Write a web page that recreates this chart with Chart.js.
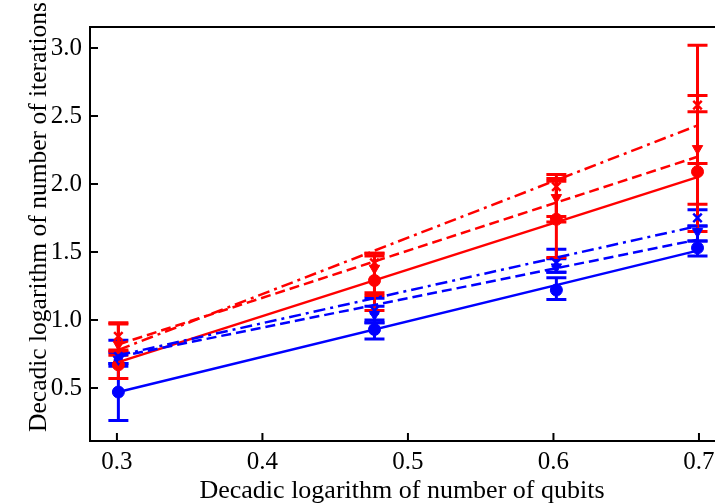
<!DOCTYPE html>
<html>
<head>
<meta charset="utf-8">
<script src="https://cdn.jsdelivr.net/npm/chart.js@4/dist/chart.umd.min.js"></script>
<style>
  html, body { margin: 0; padding: 0; background: #fff; overflow: hidden; }
</style>
</head>
<body>
<canvas id="plot" width="800" height="504"></canvas>
<script>
// axes
const xTicks = [0.3, 0.4, 0.5, 0.6, 0.7];
const yTicks = [0.5, 1.0, 1.5, 2.0, 2.5, 3.0];
const xTitle = 'Decadic logarithm of number of qubits';
const yTitle = 'Decadic logarithm of number of iterations';
const xPts = [0.301, 0.477, 0.602, 0.699];   // log10 of 2,3,4,5 qubits
const fitX = [0.301, 0.699];

// red measurements (value, lower, upper)
const redCircle   = [0.67, 1.29, 1.74, 2.09];
const redCircleLo = [0.57, 1.07, 1.46, 1.65];
const redCircleHi = [0.77, 1.49, 2.02, 2.53];
const redTri      = [0.82, 1.38, 1.90, 2.26];
const redTriLo    = [0.74, 1.20, 1.76, 1.85];
const redTriHi    = [0.97, 1.47, 2.04, 2.65];
const redCross    = [0.88, 1.42, 1.98, 2.58];
const redCrossLo  = [0.78, 1.18, 1.72, 2.15];
const redCrossHi  = [0.98, 1.49, 2.07, 3.02];

// blue measurements
const blueCircle   = [0.47, 0.93, 1.22, 1.53];
const blueCircleLo = [0.26, 0.86, 1.15, 1.47];
const blueCircleHi = [0.68, 1.00, 1.31, 1.58];
const blueTri      = [0.71, 1.04, 1.39, 1.65];
const blueTriLo    = [0.66, 0.98, 1.35, 1.58];
const blueTriHi    = [0.76, 1.10, 1.45, 1.69];
const blueCross    = [0.73, 1.07, 1.42, 1.75];
const blueCrossLo  = [0.68, 0.98, 1.35, 1.69];
const blueCrossHi  = [0.85, 1.16, 1.52, 1.81];

// linear fits, value at first and last x
const redSolidFit     = [0.69, 2.05];
const redDashFit      = [0.82, 2.20];
const redDashDotFit   = [0.78, 2.43];
const blueSolidFit    = [0.47, 1.51];
const blueDashFit     = [0.73, 1.59];
const blueDashDotFit  = [0.74, 1.69];

const RED = '#ff0000';
const BLUE = '#0000ff';
const FONT = 'Liberation Serif';

function pts(xs, ys) {
    return xs.map((x, i) => ({x: x, y: ys[i]}));
}

function fitLine(vals, color, dash) {
    return {
        data: pts(fitX, vals),
        showLine: true,
        borderColor: color,
        borderWidth: 2.5,
        borderDash: dash,
        pointRadius: 0,
        fill: false
    };
}

function markers(vals, lo, hi, color, style, rot) {
    return {
        data: pts(xPts, vals),
        showLine: false,
        errLo: lo,
        errHi: hi,
        borderColor: color,
        backgroundColor: color,
        pointStyle: style,
        pointRotation: rot || 0,
        pointRadius: 6,
        borderWidth: style == 'crossRot' ? 2.5 : 1
    };
}

const errorBars = {
    id: 'errorBars',
    beforeDatasetsDraw(chart) {
        const {ctx, scales: {x, y}} = chart;
        chart.data.datasets.forEach(ds => {
            if (!ds.errLo) return;
            ctx.save();
            ctx.strokeStyle = ds.borderColor;
            ctx.lineWidth = 3;
            ds.data.forEach((p, j) => {
                const px = x.getPixelForValue(p.x);
                const lo = y.getPixelForValue(ds.errLo[j]);
                const hi = y.getPixelForValue(ds.errHi[j]);
                ctx.beginPath();
                ctx.moveTo(px, lo); ctx.lineTo(px, hi);
                ctx.moveTo(px - 10, lo); ctx.lineTo(px + 10, lo);
                ctx.moveTo(px - 10, hi); ctx.lineTo(px + 10, hi);
                ctx.stroke();
            });
            ctx.restore();
        });
    }
};

// top spine, inward tick marks and the two axis titles
const frame = {
    id: 'frame',
    afterDraw(chart) {
        const {ctx, chartArea: a, scales: {x, y}} = chart;
        ctx.save();
        ctx.strokeStyle = '#000';
        ctx.lineWidth = 2;
        ctx.beginPath();
        ctx.moveTo(a.left - 1, a.top); ctx.lineTo(a.right, a.top);
        xTicks.forEach(v => {
            const px = x.getPixelForValue(v);
            ctx.moveTo(px, a.bottom); ctx.lineTo(px, a.bottom - 8);
        });
        yTicks.forEach(v => {
            const py = y.getPixelForValue(v);
            ctx.moveTo(a.left, py); ctx.lineTo(a.left + 8, py);
        });
        ctx.stroke();

        ctx.fillStyle = '#000';
        ctx.textAlign = 'center';
        ctx.textBaseline = 'alphabetic';
        ctx.font = '26px "' + FONT + '"';
        ctx.fillText(xTitle, 402, 498);
        ctx.font = '25.5px "' + FONT + '"';
        ctx.translate(46, 217);
        ctx.rotate(-Math.PI / 2);
        ctx.fillText(yTitle, 0, 0);
        ctx.restore();
    }
};

const ctx = document.getElementById('plot').getContext('2d');

new Chart(ctx, {
    type: 'scatter',
    data: {
        datasets: [
            fitLine(blueSolidFit, BLUE, []),
            fitLine(blueDashFit, BLUE, [10, 5]),
            fitLine(blueDashDotFit, BLUE, [12, 5, 3, 5]),
            fitLine(redSolidFit, RED, []),
            fitLine(redDashFit, RED, [10, 5]),
            fitLine(redDashDotFit, RED, [12, 5, 3, 5]),
            markers(blueCircle, blueCircleLo, blueCircleHi, BLUE, 'circle'),
            markers(blueTri, blueTriLo, blueTriHi, BLUE, 'triangle', 180),
            markers(blueCross, blueCrossLo, blueCrossHi, BLUE, 'crossRot'),
            markers(redCircle, redCircleLo, redCircleHi, RED, 'circle'),
            markers(redTri, redTriLo, redTriHi, RED, 'triangle', 180),
            markers(redCross, redCrossLo, redCrossHi, RED, 'crossRot')
        ]
    },
    options: {
        responsive: false,
        animation: false,
        layout: { padding: { top: 27, right: 60, left: 0, bottom: 0 } },
        plugins: {
            legend: { display: false },
            tooltip: { enabled: false }
        },
        scales: {
            x: {
                type: 'linear',
                min: 0.2815,
                max: 0.7282,
                afterBuildTicks: s => { s.ticks = xTicks.map(v => ({value: v})); },
                afterFit: s => { s.height = 63; s.paddingLeft = 0; s.paddingRight = 0; },
                grid: { display: false, drawTicks: false },
                border: { display: true, color: '#000', width: 2 },
                ticks: {
                    color: '#000',
                    padding: 6,
                    maxRotation: 0,
                    font: { family: FONT, size: 25 },
                    callback: v => v.toFixed(1)
                },
                title: { display: false }
            },
            y: {
                type: 'linear',
                min: 0.11,
                max: 3.154,
                afterBuildTicks: s => { s.ticks = yTicks.map(v => ({value: v})); },
                afterFit: s => { s.width = 90; },
                grid: { display: false, drawTicks: false },
                border: { display: true, color: '#000', width: 2 },
                ticks: {
                    color: '#000',
                    padding: 8,
                    font: { family: FONT, size: 25 },
                    callback: v => v.toFixed(1)
                },
                title: { display: false }
            }
        }
    },
    plugins: [errorBars, frame]
});
</script>
</body>
</html>
